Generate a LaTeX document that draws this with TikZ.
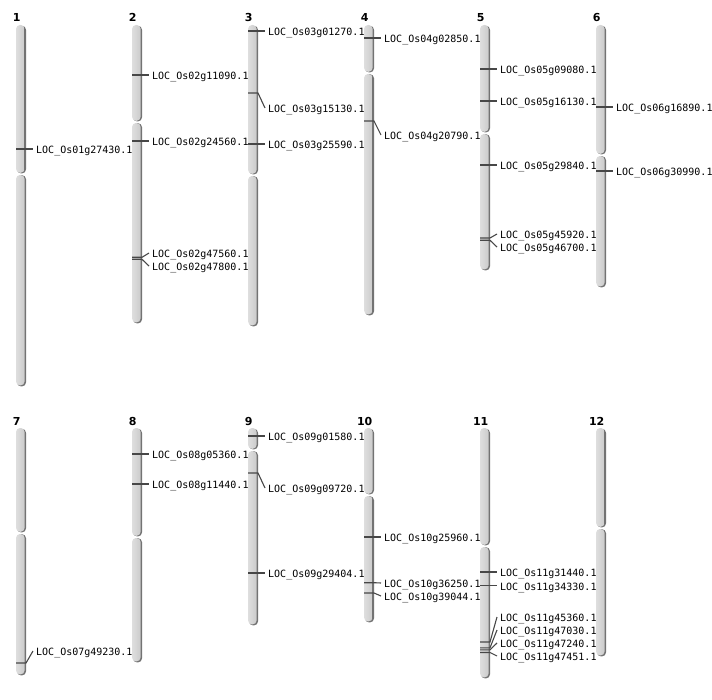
\documentclass[tikz,border=0pt]{standalone}
\usepackage{fontspec}
\setmainfont{DejaVu Sans}
\setmonofont{DejaVu Sans Mono}
\tikzset{
  gene/.style={anchor=west, inner sep=3pt, font=\ttfamily\fontsize{10}{10}\selectfont, text height=9.3pt, text depth=0pt},
  chrnum/.style={anchor=base, inner sep=0pt, font=\bfseries\fontsize{11}{11}\selectfont},
  genemark/.style={black!72, line width=1.1pt},
  armshadow/.style={fill=black!55, rounded corners=4pt},
  armbody/.style={left color=black!13, right color=black!20, rounded corners=4pt}
}
\begin{document}
\begin{tikzpicture}[x=1pt, y=-1pt]
\useasboundingbox (0,0) rectangle (712,700);
% chromosomes: centre x / top / centromere / bottom
\foreach \cx/\top/\cen/\bot [count=\i] in {21/25/174/386, 137/25/122/323, 253/25/175/326,
    369/25/73/315, 485/25/133/270, 601/25/155/287, 21/428/533/675, 137/428/537/662,
    253/428/450/625, 369/428/495/622, 485/428/546/678, 601/428/528/656} {
  \fill[armshadow] (\cx-4,\top+0.8) rectangle (\cx+5,\cen-0.6);
  \fill[armshadow] (\cx-4,\cen+1.2) rectangle (\cx+5,\bot+0.4);
  \shade[armbody] (\cx-5,\top) rectangle (\cx+3.6,\cen-1.2);
  \shade[armbody] (\cx-5,\cen+1) rectangle (\cx+3.6,\bot-0.6);
  \node[chrnum] (n\i) at (\cx-4.3,\top-3) {\i};
}
% chromosome 1
\node[gene] (g01a) at (33,149) {LOC\_Os01g27430.1};
\draw[genemark] (16,149) -- (g01a.west);
% chromosome 2
\node[gene] (g02a) at (149,75) {LOC\_Os02g11090.1};
\node[gene] (g02b) at (149,141) {LOC\_Os02g24560.1};
\node[gene] (g02c) at (149,253) {LOC\_Os02g47560.1};
\node[gene] (g02d) at (149,266) {LOC\_Os02g47800.1};
\draw[genemark] (132,75) -- (g02a.west);
\draw[genemark] (132,141) -- (g02b.west);
\draw[genemark] (132,257.3) -- (142,257.3) -- (g02c.west);
\draw[genemark] (132,259.3) -- (142,259.3) -- (g02d.west);
% chromosome 3
\node[gene] (g03a) at (265,31) {LOC\_Os03g01270.1};
\node[gene] (g03b) at (265,108) {LOC\_Os03g15130.1};
\node[gene] (g03c) at (265,144) {LOC\_Os03g25590.1};
\draw[genemark] (248,31) -- (g03a.west);
\draw[genemark] (248,93) -- (258,93) -- (g03b.west);
\draw[genemark] (248,144) -- (g03c.west);
% chromosome 4
\node[gene] (g04a) at (381,38) {LOC\_Os04g02850.1};
\node[gene] (g04b) at (381,135) {LOC\_Os04g20790.1};
\draw[genemark] (364,38) -- (g04a.west);
\draw[genemark] (364,121) -- (374,121) -- (g04b.west);
% chromosome 5
\node[gene] (g05a) at (497,69) {LOC\_Os05g09080.1};
\node[gene] (g05b) at (497,101) {LOC\_Os05g16130.1};
\node[gene] (g05c) at (497,165) {LOC\_Os05g29840.1};
\node[gene] (g05d) at (497,234) {LOC\_Os05g45920.1};
\node[gene] (g05e) at (497,247) {LOC\_Os05g46700.1};
\draw[genemark] (480,69) -- (g05a.west);
\draw[genemark] (480,101) -- (g05b.west);
\draw[genemark] (480,165) -- (g05c.west);
\draw[genemark] (480,238) -- (490,238) -- (g05d.west);
\draw[genemark] (480,240.3) -- (490,240.3) -- (g05e.west);
% chromosome 6
\node[gene] (g06a) at (613,107) {LOC\_Os06g16890.1};
\node[gene] (g06b) at (613,171) {LOC\_Os06g30990.1};
\draw[genemark] (596,107) -- (g06a.west);
\draw[genemark] (596,171) -- (g06b.west);
% chromosome 7
\node[gene] (g07a) at (33,651) {LOC\_Os07g49230.1};
\draw[genemark] (16,663) -- (26,663) -- (g07a.west);
% chromosome 8
\node[gene] (g08a) at (149,454) {LOC\_Os08g05360.1};
\node[gene] (g08b) at (149,484) {LOC\_Os08g11440.1};
\draw[genemark] (132,454) -- (g08a.west);
\draw[genemark] (132,484) -- (g08b.west);
% chromosome 9
\node[gene] (g09a) at (265,436) {LOC\_Os09g01580.1};
\node[gene] (g09b) at (265,488) {LOC\_Os09g09720.1};
\node[gene] (g09c) at (265,573) {LOC\_Os09g29404.1};
\draw[genemark] (248,436) -- (g09a.west);
\draw[genemark] (248,473) -- (258,473) -- (g09b.west);
\draw[genemark] (248,573) -- (g09c.west);
% chromosome 10
\node[gene] (g10a) at (381,537) {LOC\_Os10g25960.1};
\node[gene] (g10b) at (381,583) {LOC\_Os10g36250.1};
\node[gene] (g10c) at (381,596) {LOC\_Os10g39044.1};
\draw[genemark] (364,537) -- (g10a.west);
\draw[genemark] (364,582.7) -- (374,582.7) -- (g10b.west);
\draw[genemark] (364,593) -- (374,593) -- (g10c.west);
% chromosome 11
\node[gene] (g11a) at (497,572) {LOC\_Os11g31440.1};
\node[gene] (g11b) at (497,585.7) {LOC\_Os11g34330.1};
\node[gene] (g11c) at (497,617) {LOC\_Os11g45360.1};
\node[gene] (g11d) at (497,630) {LOC\_Os11g47030.1};
\node[gene] (g11e) at (497,643) {LOC\_Os11g47240.1};
\node[gene] (g11f) at (497,656) {LOC\_Os11g47451.1};
\draw[genemark] (480,572) -- (g11a.west);
\draw[genemark] (480,585.7) -- (g11b.west);
\draw[genemark] (480,642) -- (490,642) -- (g11c.west);
\draw[genemark] (480,647.8) -- (490,647.8) -- (g11d.west);
\draw[genemark] (480,649.8) -- (490,649.8) -- (g11e.west);
\draw[genemark] (480,652.5) -- (490,652.5) -- (g11f.west);
\end{tikzpicture}
\end{document}
